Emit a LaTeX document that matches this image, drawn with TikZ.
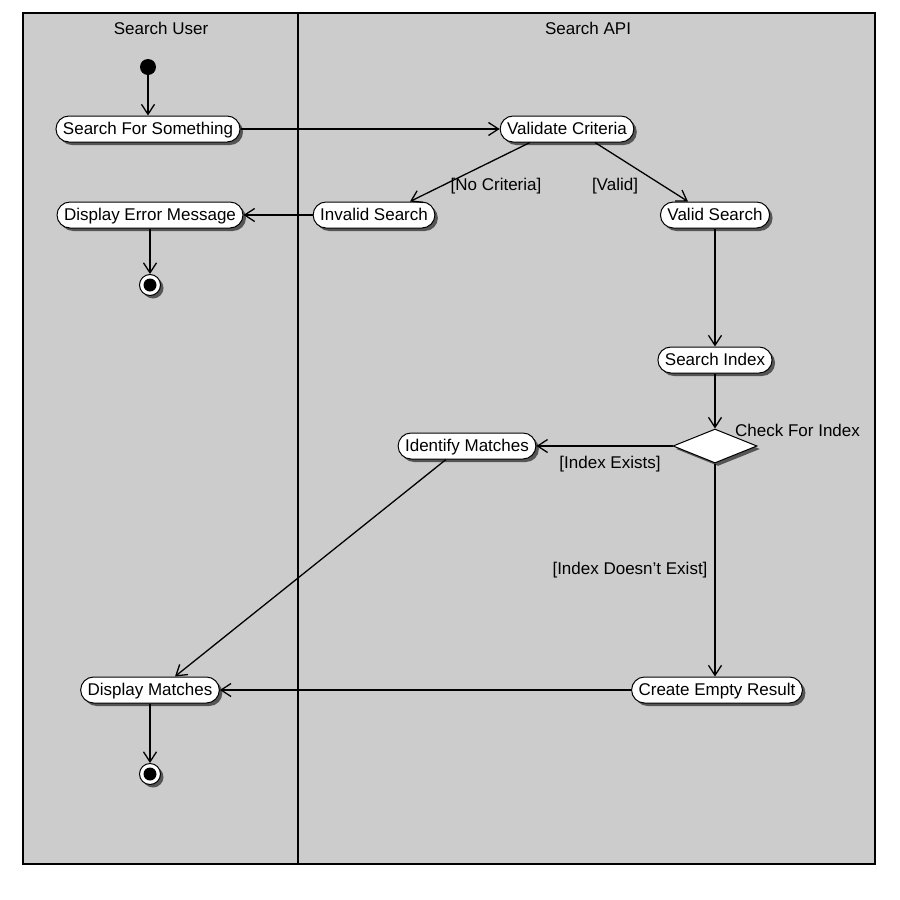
\documentclass[tikz,border=0pt]{standalone}
\usepackage{fontspec}
\setmainfont{Liberation Sans}
\usetikzlibrary{arrows.meta,shapes.geometric,shadows}
\definecolor{lanegray}{RGB}{204,204,204}
\definecolor{shadowgray}{RGB}{85,85,85}
\begin{document}
\begin{tikzpicture}[x=1pt,y=-1pt,
  font=\fontsize{17}{19}\selectfont,
  >={Straight Barb[length=10pt,width=13pt]},
  shade/.style={drop shadow={shadow xshift=3pt,shadow yshift=-3pt,fill=shadowgray,opacity=1}},
  activity/.style={draw,line width=1pt,fill=white,rounded corners=13pt,
    minimum height=26pt,inner xsep=7pt,inner ysep=0pt,text height=12.5pt,text depth=2.5pt,shade},
  startdot/.style={circle,fill=black,minimum size=16pt,inner sep=0pt},
  endring/.style={circle,draw,line width=1pt,fill=white,minimum size=21pt,inner sep=0pt,shade},
  endcore/.style={circle,fill=black,minimum size=13pt,inner sep=0pt},
  choice/.style={diamond,draw,line width=1pt,fill=white,minimum width=84pt,minimum height=34pt,
    inner sep=0pt,shade},
  flow/.style={->,line width=1.3pt},
  guard/.style={inner sep=1pt},
  lanetitle/.style={inner sep=1pt}]
% page and swimlanes
\useasboundingbox[fill=white] (0,0) rectangle (900,900);
\draw[fill=lanegray,line width=2.5pt] (23,13) rectangle (875,864);
\draw[line width=1.8pt] (298,13) -- (298,864);
\node[lanetitle] (laneuser) at (161,28) {Search User};
\node[lanetitle] (laneapi) at (588,28) {Search API};

% states
\node[startdot] (start) at (148,67) {};
\node[activity] (search) at (148,129) {Search For Something};
\node[activity] (validate) at (567,129) {Validate Criteria};
\node[activity] (invalid) at (374,215) {Invalid Search};
\node[activity] (valid) at (715,215) {Valid Search};
\node[activity] (error) at (150,215) {Display Error Message};
\node[endring] (end1) at (150,285) {};
\node[endcore] (end1core) at (150,285) {};
\node[activity] (index) at (715,360) {Search Index};
\node[choice] (check) at (715,446) {};
\node[anchor=west,inner sep=1pt] (checklbl) at (734,430) {Check For Index};
\node[activity] (identify) at (467,446) {Identify Matches};
\node[activity] (empty) at (717,690) {Create Empty Result};
\node[activity] (display) at (150,690) {Display Matches};
\node[endring] (end2) at (150,774) {};
\node[endcore] (end2core) at (150,774) {};

% transitions
\draw[flow] (start) -- (search);
\draw[flow] (search) -- (validate);
\draw[flow] ([xshift=-37pt]validate.south) -- ([xshift=36pt]invalid.north);
\draw[flow] ([xshift=28pt]validate.south) -- ([xshift=-27pt]valid.north);
\draw[flow] (invalid) -- (error);
\draw[flow] (error) -- (end1);
\draw[flow] (valid) -- (index);
\draw[flow] (index) -- (check.north);
\draw[flow] (check.west) -- (identify);
\draw[flow] (check.south) -- (check.south |- empty.north);
\draw[flow] ([xshift=-21pt]identify.south) -- ([xshift=25pt]display.north);
\draw[flow] (empty) -- (display);
\draw[flow] (display) -- (end2);

% guards
\node[guard] (gno) at (496,186) {[No Criteria]};
\node[guard] (gvalid) at (615,186) {[Valid]};
\node[guard] (gexists) at (610,464) {[Index Exists]};
\node[guard] (gnot) at (630,570) {[Index Doesn't Exist]};
\end{tikzpicture}
\end{document}
